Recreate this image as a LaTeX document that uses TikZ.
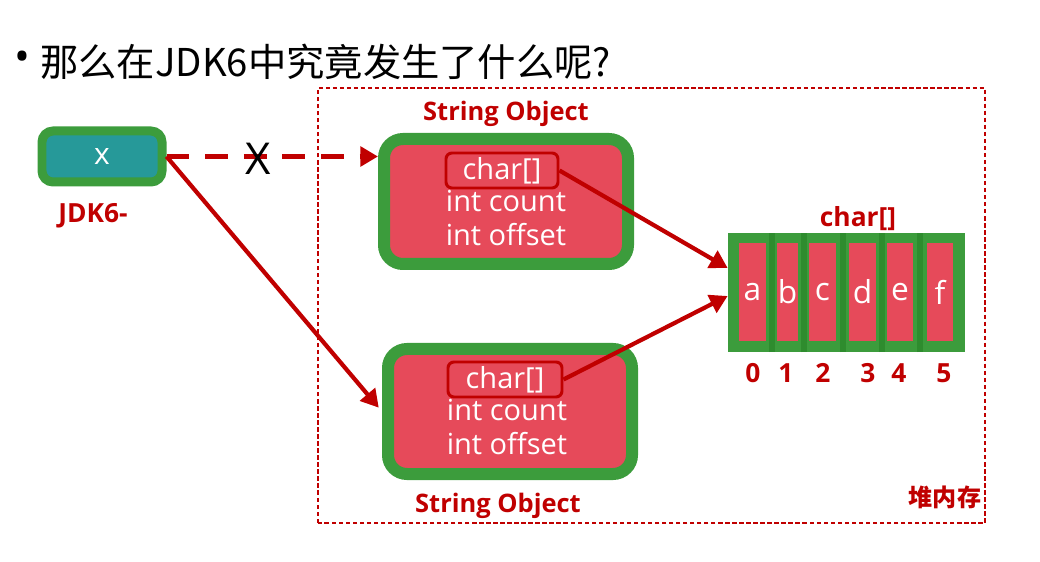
\documentclass[tikz,border=0pt]{standalone}
\usepackage{fontspec}
\setmainfont{Open Sans}
\newfontfamily\cjk{Noto Sans CJK SC}
\usepackage{tikz}
\usetikzlibrary{positioning, calc, arrows.meta}
\definecolor{objgreen}{RGB}{60,156,60}
\definecolor{divgreen}{RGB}{46,140,46}
\definecolor{objred}{RGB}{230,74,90}
\definecolor{refteal}{RGB}{38,153,153}
\definecolor{darkred}{RGB}{192,0,0}
\tikzstyle{refbox} = [rectangle, rounded corners=0.22cm, minimum width=2.4cm, minimum height=1.02cm, fill=refteal, draw=objgreen, line width=0.18cm, text=white, font=\fontsize{17}{19}\selectfont]
\tikzstyle{objbox} = [rectangle, rounded corners=0.38cm, minimum width=4.88cm, minimum height=2.5cm, fill=objred, draw=objgreen, line width=0.24cm]
\tikzstyle{fieldbox} = [rectangle, rounded corners=0.12cm, minimum width=2.24cm, minimum height=0.7cm, inner sep=0pt, fill=objred, draw=darkred, line width=1.7pt, text=white, font=\fontsize{16.5}{19}\selectfont]
\tikzstyle{fields} = [align=center, inner sep=0pt, text=white, font=\fontsize{16.5}{19.3}\selectfont]
\tikzstyle{redlabel} = [inner sep=0pt, text=darkred, font=\bfseries\fontsize{14.5}{17}\selectfont]
\tikzstyle{cellbox} = [rectangle, minimum height=1.96cm, inner sep=0pt, fill=objred, text=white, font=\fontsize{18}{20}\selectfont]
\tikzstyle{ptr} = [line width=2.4pt, draw=darkred, -{Triangle[length=10pt,width=11pt]}]
\tikzstyle{ptrdash} = [ptr, line width=2.8pt, dash pattern=on 13pt off 9pt]
\tikzstyle{heapbox} = [draw=darkred, line width=0.6pt, dash pattern=on 2.5pt off 1.5pt]

\begin{document}
\begin{tikzpicture}
		\useasboundingbox (0,0) rectangle (20.8,11.22);
		% title
		\node (bullet) [inner sep=0pt, font=\fontsize{24}{26}\selectfont] at (0.44,10.0) {•};
		\node (title) [anchor=west, inner sep=0pt, font=\cjk\fontsize{21.8}{25}\selectfont] at (0.8,9.98) {那么在JDK6中究竟发生了什么呢?};
		% heap area
		\draw [heapbox] (6.36,0.76) rectangle (19.70,9.46);
		\node (heaplabel) [redlabel, font=\cjk\bfseries\fontsize{13.7}{16}\selectfont] at (18.9,1.28) {堆内存};
		% reference x
		\node (xref) [refbox] at (2.04,8.09) {x};
		\node (jdk) [redlabel, font=\bfseries\fontsize{15}{18}\selectfont, below=0.33cm of xref, xshift=-0.18cm] {JDK6-};
		% string objects
		\node (topobj) [objbox] at (10.12,7.19) {};
		\node (toplabel) [redlabel, above=0.12cm of topobj] {String Object};
		\node (topchar) [fieldbox] at (10.04,7.81) {char[]};
		\node (topfields) [fields, below=0cm of topchar, xshift=0.08cm] {int count\\int offset};
		\node (botobj) [objbox] at (10.2,2.99) {};
		\node (botlabel) [redlabel, below=0.26cm of botobj, xshift=-0.24cm] {String Object};
		\node (botchar) [fieldbox, minimum width=2.28cm] at (10.10,3.63) {char[]};
		\node (botfields) [fields, below=0cm of botchar, xshift=0.04cm] {int count\\int offset};
		% char array
		\node (chararr) [rectangle, fill=objgreen, minimum width=4.74cm, minimum height=2.38cm] at (16.93,5.37) {};
		\node (arrlabel) [redlabel, font=\bfseries\fontsize{15}{18}\selectfont, above=0.04cm of chararr, xshift=0.23cm] {char[]};
		\foreach \dx in {15.43,16.07,16.85,17.63,18.40}
			\draw [divgreen, line width=0.12cm] (\dx,4.18) -- (\dx,6.56);
		\foreach \ch/\cx/\cw in {a/15.05/0.54, b/15.75/0.42, c/16.45/0.54, d/17.25/0.54, e/18.0/0.52, f/18.8/0.52}
			\node (cell\ch) [cellbox, minimum width=\cw cm] at (\cx,5.38) {\ch};
		\foreach \i/\ix in {0/15.06, 1/15.72, 2/16.46, 3/17.36, 4/17.98, 5/18.88}
			\node (idx\i) [redlabel, font=\bfseries\fontsize{15}{18}\selectfont] at (\ix,3.76) {\i};
		% pointers
		\draw [ptrdash] (xref.east) -- (xref.east -| topobj.west);
		\node (cross) [font=\fontsize{25}{30}\selectfont] at (5.16,8.05) {X};
		\draw [ptr, shorten >=0.1cm] (xref.east) -- (botobj.west);
		\draw [ptr] (topchar.east) -- ($(chararr.west)+(0,0.49)$);
		\draw [ptr] (botchar.east) -- ($(chararr.west)+(0,-0.07)$);
	\end{tikzpicture}
\end{document}
